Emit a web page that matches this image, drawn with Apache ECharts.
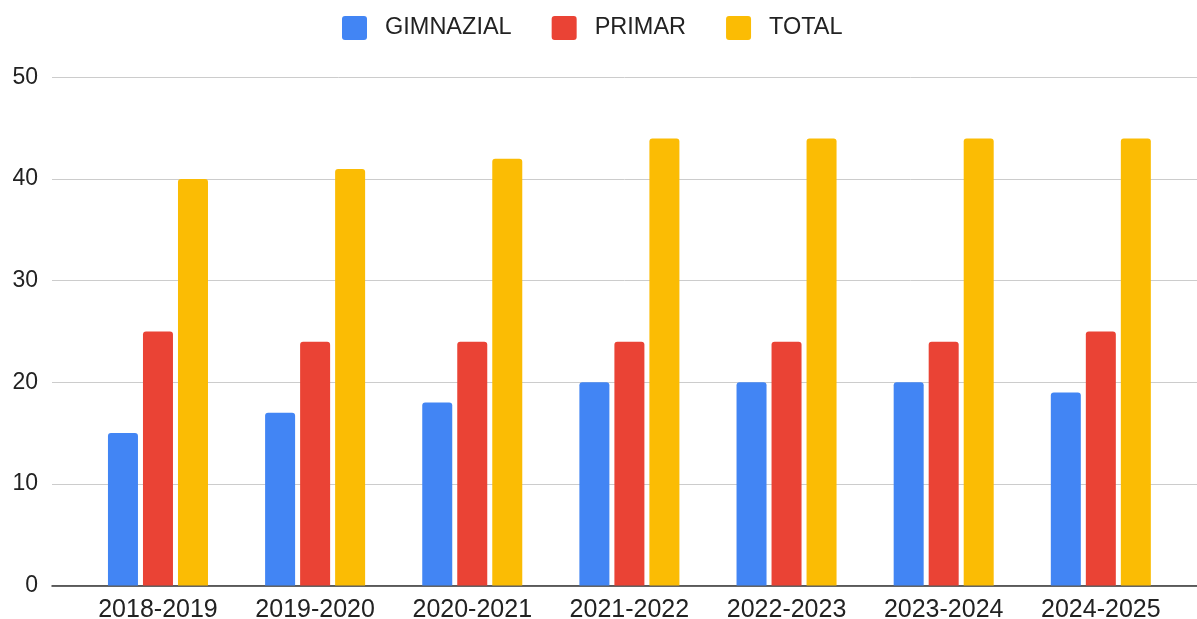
<!DOCTYPE html>
<html>
<head>
<meta charset="utf-8">
<script src="https://cdn.jsdelivr.net/npm/echarts@6/dist/echarts.min.js"></script>
<style>
  html, body { margin: 0; padding: 0; background: #fff; }
  #chart { width: 1197px; height: 619px; }
</style>
</head>
<body>
<div id="chart"></div>
<script>
const years = ['2018-2019', '2019-2020', '2020-2021', '2021-2022', '2022-2023', '2023-2024', '2024-2025'];
const gimnazial = [15, 17, 18, 20, 20, 20, 19];
const primar = [25, 24, 24, 24, 24, 24, 25];
const total = [40, 41, 42, 44, 44, 44, 44];
const yTicks = { min: 0, max: 50, step: 10 };

const font = "'Liberation Sans', Arial, sans-serif";
const chart = echarts.init(document.getElementById('chart'));

function bar(name, data, color) {
  return {
    name: name,
    type: 'bar',
    xAxisIndex: 1,
    yAxisIndex: 1,
    data: data,
    barWidth: 30,
    barGap: '16.7%',
    itemStyle: { color: color, borderRadius: [3, 3, 0, 0] }
  };
}

chart.setOption({
  animation: false,
  textStyle: { fontFamily: font },
  legend: {
    top: 11,
    left: 337,
    itemWidth: 25,
    itemHeight: 24,
    itemGap: 40,
    icon: 'path://M3,0 H22 Q25,0 25,3 V21 Q25,24 22,24 H3 Q0,24 0,21 V3 Q0,0 3,0 Z',
    textStyle: { fontSize: 23.5, lineHeight: 24, color: '#222', fontFamily: font, padding: [0, 0, 0, 13] },
    data: ['GIMNAZIAL', 'PRIMAR', 'TOTAL']
  },
  grid: [
    { left: 52, right: 0, top: 77.5, bottom: 33.5, outerBoundsMode: 'none' },
    { left: 79.4, right: 17.6, top: 77.5, bottom: 33.5, outerBoundsMode: 'none' }
  ],
  xAxis: [
    {
      type: 'value', gridIndex: 0, min: 0, max: 1,
      axisLine: { show: true, lineStyle: { color: '#333', width: 1.5 } },
      axisTick: { show: false }, axisLabel: { show: false }, splitLine: { show: false }
    },
    {
      type: 'category', gridIndex: 1, data: years,
      axisLine: { show: false }, axisTick: { show: false },
      axisLabel: { fontSize: 25, color: '#222', margin: 12, fontFamily: font }
    }
  ],
  yAxis: [
    {
      type: 'value', gridIndex: 0, min: yTicks.min, max: yTicks.max, interval: yTicks.step,
      axisLine: { show: false }, axisTick: { show: false },
      axisLabel: { fontSize: 23, color: '#222', margin: 14, fontFamily: font },
      splitLine: { lineStyle: { color: '#cccccc', width: 1 } }
    },
    {
      type: 'value', gridIndex: 1, min: yTicks.min, max: yTicks.max, interval: yTicks.step,
      show: false, splitLine: { show: false }
    }
  ],
  series: [
    bar('GIMNAZIAL', gimnazial, '#4285F4'),
    bar('PRIMAR', primar, '#EA4335'),
    bar('TOTAL', total, '#FBBC04')
  ]
});
</script>
</body>
</html>
